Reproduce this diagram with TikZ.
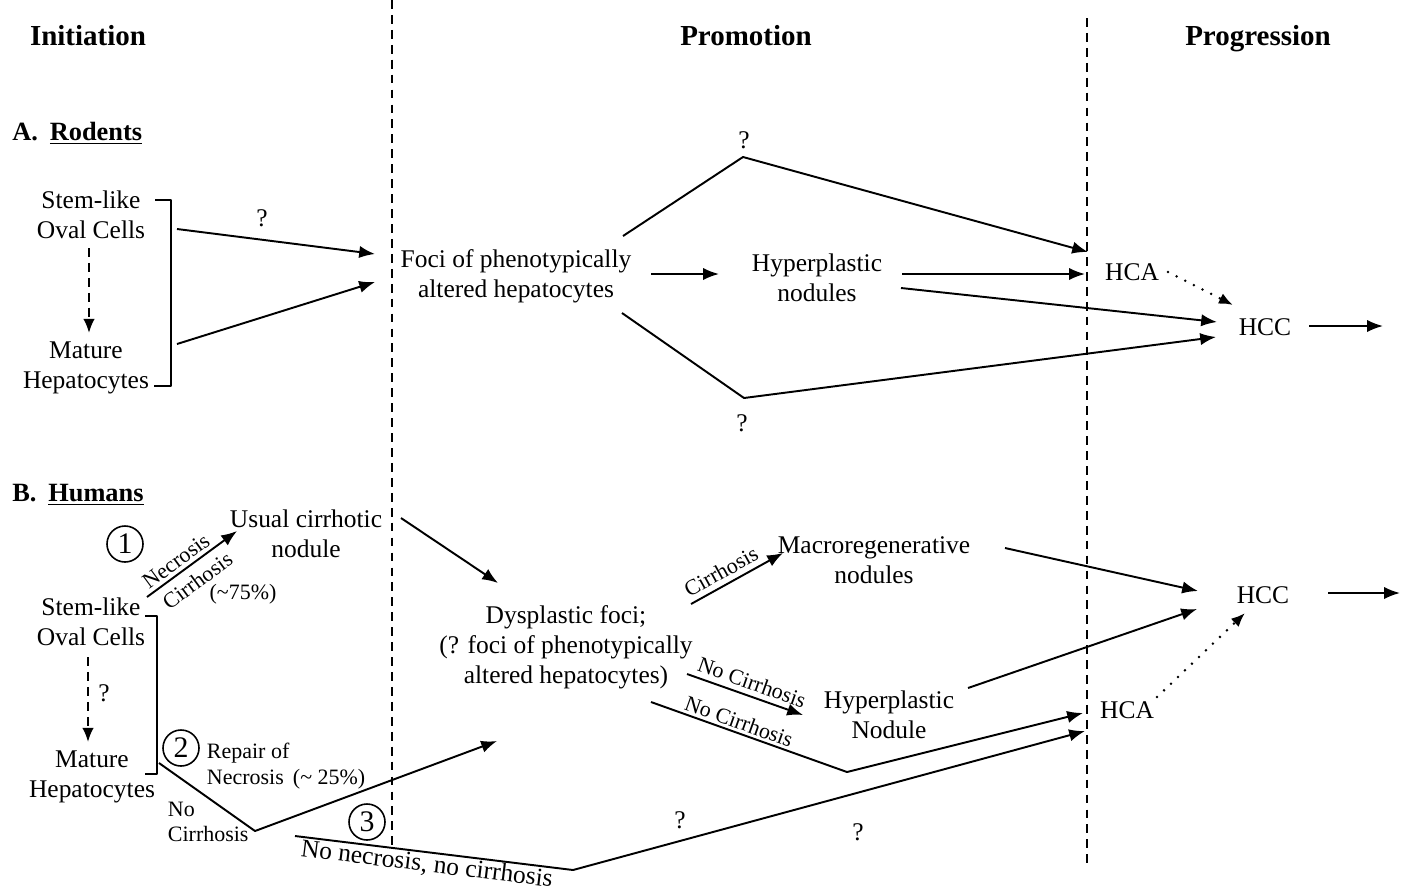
\documentclass[tikz,border=0pt]{standalone}
\usepackage{fontspec}
\setmainfont{Liberation Serif}
\usetikzlibrary{arrows.meta,calc}
\begin{document}
\begin{tikzpicture}[x=0.02cm,y=-0.02cm,
  txt/.style={font=\fontsize{14.5}{17}\selectfont, align=center, inner sep=0pt},
  head/.style={font=\fontsize{16.5}{19}\selectfont\bfseries, inner sep=0pt, anchor=base},
  sect/.style={font=\fontsize{15}{18}\selectfont\bfseries, inner sep=0pt, anchor=west},
  lbl/.style={font=\fontsize{12.5}{14.5}\selectfont, inner sep=1.5pt},
  qm/.style={font=\fontsize{14.5}{17}\selectfont, inner sep=0pt},
  num/.style={circle, draw, line width=0.9pt, minimum size=20.5pt, inner sep=0pt, font=\fontsize{17}{17}\selectfont},
  ln/.style={line width=1.1pt, line join=round},
  arr/.style={ln, -{Latex[length=9pt,width=7pt]}},
  dsh/.style={line width=1.1pt, dash pattern=on 5pt off 3.5pt},
  dsharr/.style={dsh, -{Latex[length=8pt,width=6.5pt]}},
  dotarr/.style={line width=1.6pt, line cap=round, dash pattern=on 0pt off 5.5pt, -{Latex[length=8pt,width=6.5pt]}}
]
\useasboundingbox (0,0) rectangle (1405,890);

% headings
\node[head] (hIni) at (88,45) {Initiation};
\node[head] (hPro) at (746,45) {Promotion};
\node[head] (hPrg) at (1258,45) {Progression};

% dividers
\coordinate (d1t) at (392,0);
\coordinate (d1b) at (392,848);
\coordinate (d2t) at (1087,18);
\coordinate (d2b) at (1087,866);
\draw[dsh] (d1t) -- (d1b);
\draw[dsh] (d2t) -- (d2b);

% ================= A. Rodents =================
\node[sect] (secA) at (12,133) {A.\hspace{0.45em}\underline{Rodents}};
\node[txt] (sA) at (91,215) {Stem-like\\Oval Cells};
\node[txt] (mA) at (86,368) {Mature\\Hepatocytes};
\coordinate (bA1) at (155,200);
\coordinate (bA2) at (171,200);
\coordinate (bA3) at (171,386);
\coordinate (bA4) at (154,386);
\draw[ln] (bA1) -- (bA2) -- (bA3) -- (bA4);
\coordinate (vA1) at (89,248);
\coordinate (vA2) at (89,333);
\draw[dsharr] (vA1) -- (vA2);

\node[txt] (fociA) at (516,276) {Foci of phenotypically\\altered hepatocytes};
\node[txt] (hypA) at (817,278) {Hyperplastic\\nodules};
\node[txt] (hcaA) at (1132,272) {HCA};
\node[txt] (hccA) at (1265,327) {HCC};
\node[qm] (qA0) at (262,218) {?};
\node[qm] (qA1) at (744,140) {?};
\node[qm] (qA2) at (742,423) {?};

\coordinate (a1s) at (177,229);  \coordinate (a1e) at (375,254);
\coordinate (a2s) at (177,344);  \coordinate (a2e) at (375,282);
\coordinate (a3s) at (651,274);  \coordinate (a3e) at (719,274);
\coordinate (a4s) at (902,274);  \coordinate (a4e) at (1085,274);
\coordinate (a5s) at (623,236);  \coordinate (a5m) at (743,157);  \coordinate (a5e) at (1088,252);
\coordinate (a6s) at (622,313);  \coordinate (a6m) at (744,398);  \coordinate (a6e) at (1216,337);
\coordinate (a7s) at (901,288);  \coordinate (a7e) at (1217,322);
\coordinate (a8s) at (1168,272); \coordinate (a8e) at (1233,305);
\coordinate (a9s) at (1309,326); \coordinate (a9e) at (1383,326);
\draw[arr] (a1s) -- (a1e);
\draw[arr] (a2s) -- (a2e);
\draw[arr] (a3s) -- (a3e);
\draw[arr] (a4s) -- (a4e);
\draw[arr] (a5s) -- (a5m) -- (a5e);
\draw[arr] (a6s) -- (a6m) -- (a6e);
\draw[arr] (a7s) -- (a7e);
\draw[dotarr] (a8s) -- (a8e);
\draw[arr] (a9s) -- (a9e);

% ================= B. Humans =================
\node[sect] (secB) at (12,495) {B.\hspace{0.45em}\underline{Humans}};
\node[num] (n1) at (125,544) {1};
\node[txt] (ucn) at (306,534) {Usual cirrhotic\\nodule};
\node[txt] (sB) at (91,622) {Stem-like\\Oval Cells};
\node[txt] (mB) at (92,777) {Mature\\Hepatocytes};
\coordinate (bB1) at (145,616);
\coordinate (bB2) at (157,616);
\coordinate (bB3) at (157,774);
\coordinate (bB4) at (145,774);
\draw[ln] (bB1) -- (bB2) -- (bB3) -- (bB4);
\coordinate (vB1) at (88,657);
\coordinate (vB2) at (88,742);
\draw[dsharr] (vB1) -- (vB2);
\node[qm] (qB0) at (104,693) {?};

\coordinate (b1s) at (147,597); \coordinate (b1e) at (237,531);
\draw[arr] (b1s) -- node[lbl, sloped, above, pos=0.40, inner sep=2pt] {Necrosis}
                    node[lbl, sloped, below, pos=0.45, inner sep=4.5pt] {Cirrhosis} (b1e);
\node[lbl] (p75) at (243,594) {(\textasciitilde75\%)};

\node[num] (n2) at (181,748) {2};
\node[lbl, anchor=west, align=left] (rep) at (204,766) {Repair of\\Necrosis \,(\textasciitilde{} 25\%)};
\node[lbl, anchor=west, align=left] (noc) at (165,822) {No\\Cirrhosis};
\coordinate (b2s) at (159,763); \coordinate (b2m) at (255,831); \coordinate (b2e) at (497,741);
\draw[arr] (b2s) -- (b2m) -- (b2e);

\node[num] (n3) at (367,822) {3};
\coordinate (b3s) at (295,836); \coordinate (b3m) at (573,870); \coordinate (b3e) at (1085,731);
\draw[arr] (b3s) -- node[txt, sloped, below, pos=0.48, inner sep=0.5pt] {No necrosis, no cirrhosis} (b3m) -- (b3e);
\node[qm] (qB1) at (680,820) {?};
\node[qm] (qB2) at (858,832) {?};

\node[txt] (dys) at (566,647) {Dysplastic foci;\\(? foci of phenotypically\\altered hepatocytes)};
\coordinate (b4s) at (401,518); \coordinate (b4e) at (498,583);
\draw[arr] (b4s) -- (b4e);

\node[txt] (macro) at (874,560) {Macroregenerative\\nodules};
\node[txt] (hypB) at (889,715) {Hyperplastic\\Nodule};
\node[txt] (hcaB) at (1127,710) {HCA};
\node[txt] (hccB) at (1263,595) {HCC};

\coordinate (b5s) at (691,604); \coordinate (b5e) at (783,553);
\draw[arr] (b5s) -- node[lbl, sloped, above, pos=0.4, inner sep=3pt] {Cirrhosis} (b5e);
\coordinate (b6s) at (687,674); \coordinate (b6e) at (803,715);
\draw[arr] (b6s) -- node[lbl, sloped, above, pos=0.52, inner sep=3pt] {No Cirrhosis} (b6e);
\coordinate (b7s) at (651,702); \coordinate (b7m) at (847,772); \coordinate (b7e) at (1083,713);
\draw[arr] (b7s) -- node[lbl, sloped, above, pos=0.43, inner sep=1.5pt] {No Cirrhosis} (b7m) -- (b7e);

\coordinate (b8s) at (1005,548); \coordinate (b8e) at (1198,591);
\coordinate (b9s) at (968,688);  \coordinate (b9e) at (1197,609);
\coordinate (b10s) at (1157,697); \coordinate (b10e) at (1245,613);
\coordinate (b11s) at (1328,593); \coordinate (b11e) at (1400,593);
\draw[arr] (b8s) -- (b8e);
\draw[arr] (b9s) -- (b9e);
\draw[dotarr] (b10s) -- (b10e);
\draw[arr] (b11s) -- (b11e);
\end{tikzpicture}
\end{document}
